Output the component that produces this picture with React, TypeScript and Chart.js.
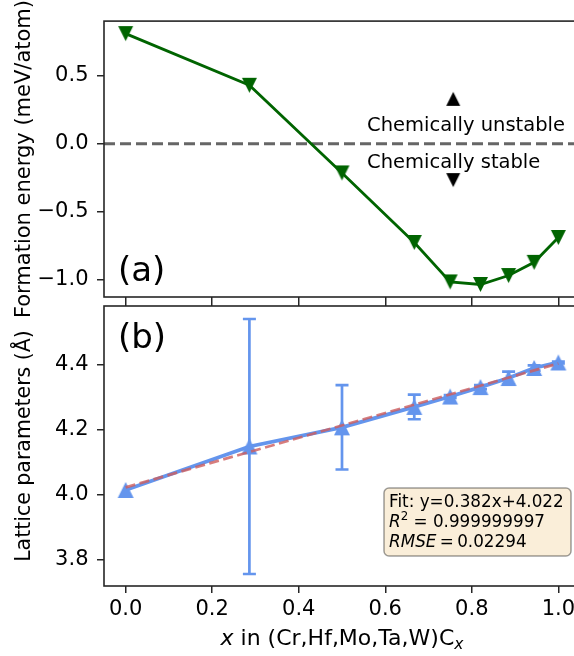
import { useEffect, useRef } from 'react';
import { Chart, registerables } from 'chart.js';
Chart.register(...registerables);

const FONT = "'DejaVu Sans', sans-serif";

// ---- Panel (a): formation energy ----
const carbonX = [0, 0.286, 0.5, 0.667, 0.75, 0.82, 0.885, 0.944, 1.0];
const formationEnergy = [0.81, 0.43, -0.215, -0.727, -1.017, -1.036, -0.97, -0.873, -0.69];
const zeroLineX = [-0.05, 1.05];
const zeroLineY = [0, 0];
const arrowX = [0.757, 0.757];
const arrowY = [0.33, -0.268];
const arrowDir = ['up', 'down'];

// ---- Panel (b): lattice parameters ----
const latticeParam = [4.014, 4.148, 4.207, 4.27, 4.302, 4.331, 4.359, 4.39, 4.407];
const latticeErr = [0, 0.393, 0.13, 0.038, 0.004, 0.006, 0.02, 0.008, 0.003];
const fitX = [0, 1];
const fitY = [4.022, 4.404];

// ---- Axes ----
const xTicks = [0, 0.2, 0.4, 0.6, 0.8, 1.0];
const yTicksA = [-1.0, -0.5, 0.0, 0.5];
const yTicksB = [3.8, 4.0, 4.2, 4.4];
const xRange = [-0.05, 1.05];
const yRangeA = [-1.128, 0.902];
const yRangeB = [3.718, 4.581];

const fmt = (v: number) => (v < 0 ? '\u2212' + Math.abs(v).toFixed(1) : v.toFixed(1));

const GREEN = '#006400';
const BLUE = '#6495ED';
const SPINE = '#262626';

function triMarker(color: string, size: number, up: boolean) {
  const c = document.createElement('canvas');
  const pad = 1;
  c.width = size + 2 * pad;
  c.height = size + 2 * pad;
  const g = c.getContext('2d')!;
  g.fillStyle = color;
  g.beginPath();
  if (up) {
    g.moveTo(pad + size / 2, pad);
    g.lineTo(pad + size, pad + size);
    g.lineTo(pad, pad + size);
  } else {
    g.moveTo(pad, pad);
    g.lineTo(pad + size, pad);
    g.lineTo(pad + size / 2, pad + size);
  }
  g.closePath();
  g.fill();
  return c;
}

const framePlugin = {
  id: 'frame',
  afterDatasetsDraw(chart: any) {
    const { ctx, chartArea: ca } = chart;
    ctx.save();
    ctx.strokeStyle = SPINE;
    ctx.lineWidth = 1.6;
    ctx.strokeRect(ca.left, ca.top, ca.right - ca.left, ca.bottom - ca.top);
    ctx.restore();
  },
};

function drawYTitle(chart: any, text: string, size: number) {
  const { ctx, chartArea: ca } = chart;
  ctx.save();
  ctx.translate(30, (ca.top + ca.bottom) / 2);
  ctx.rotate(-Math.PI / 2);
  ctx.font = `${size}px ${FONT}`;
  ctx.fillStyle = '#000';
  ctx.textAlign = 'center';
  ctx.textBaseline = 'alphabetic';
  ctx.fillText(text, 0, 0);
  ctx.restore();
}

const annotA = {
  id: 'annotA',
  afterDraw(chart: any) {
    const { ctx, chartArea: ca, scales } = chart;
    drawYTitle(chart, 'Formation energy (meV/atom)', 21);
    ctx.save();
    ctx.fillStyle = '#000';
    ctx.textBaseline = 'alphabetic';
    ctx.textAlign = 'left';
    ctx.font = `19.5px ${FONT}`;
    const tx = scales.x.getPixelForValue(0.558);
    ctx.fillText('Chemically unstable', tx, scales.y.getPixelForValue(0.095));
    ctx.fillText('Chemically stable', tx, scales.y.getPixelForValue(-0.178));
    ctx.font = `34px ${FONT}`;
    ctx.fillText('(a)', ca.left + 14, ca.bottom - 16);
    ctx.restore();
  },
};

function drawSegments(ctx: any, segs: { t: string; font: string; dy: number }[], x: number, y: number, align: 'left' | 'center') {
  let total = 0;
  for (const s of segs) {
    ctx.font = s.font;
    total += ctx.measureText(s.t).width;
  }
  let cx = align === 'center' ? x - total / 2 : x;
  for (const s of segs) {
    ctx.font = s.font;
    ctx.fillText(s.t, cx, y + s.dy);
    cx += ctx.measureText(s.t).width;
  }
}

const errorBars = {
  id: 'errorBars',
  beforeDatasetsDraw(chart: any) {
    const { ctx, scales } = chart;
    ctx.save();
    ctx.strokeStyle = BLUE;
    ctx.lineWidth = 2.7;
    carbonX.forEach((xv, i) => {
      const e = latticeErr[i];
      if (!e) return;
      const px = scales.x.getPixelForValue(xv);
      const top = scales.y.getPixelForValue(latticeParam[i] + e);
      const bot = scales.y.getPixelForValue(latticeParam[i] - e);
      ctx.beginPath();
      ctx.moveTo(px, top);
      ctx.lineTo(px, bot);
      ctx.moveTo(px - 6.5, top);
      ctx.lineTo(px + 6.5, top);
      ctx.moveTo(px - 6.5, bot);
      ctx.lineTo(px + 6.5, bot);
      ctx.stroke();
    });
    ctx.restore();
  },
};

const annotB = {
  id: 'annotB',
  afterDraw(chart: any) {
    const { ctx, chartArea: ca } = chart;
    drawYTitle(chart, 'Lattice parameters (\u00C5)', 20.5);
    ctx.save();
    ctx.fillStyle = '#000';
    ctx.textBaseline = 'alphabetic';
    ctx.textAlign = 'left';
    ctx.font = `34px ${FONT}`;
    ctx.fillText('(b)', ca.left + 14, ca.top + 42);

    // x-axis title
    drawSegments(
      ctx,
      [
        { t: 'x', font: `italic 22px ${FONT}`, dy: 0 },
        { t: ' in (Cr,Hf,Mo,Ta,W)C', font: `22px ${FONT}`, dy: 0 },
        { t: 'x', font: `italic 15.5px ${FONT}`, dy: 4 },
      ],
      (ca.left + ca.right) / 2,
      645,
      'center'
    );

    // fit box
    const bx = ca.left + 280;
    const by = ca.bottom - 98;
    const bw = 187;
    const bh = 68;
    ctx.beginPath();
    ctx.roundRect(bx, by, bw, bh, 5);
    ctx.fillStyle = 'rgba(245,222,179,0.5)';
    ctx.fill();
    ctx.strokeStyle = 'rgba(0,0,0,0.38)';
    ctx.lineWidth = 1.5;
    ctx.stroke();
    ctx.fillStyle = '#000';
    const tx = bx + 5;
    const F = 16.8;
    drawSegments(ctx, [{ t: 'Fit: y=0.382x+4.022', font: `${F}px ${FONT}`, dy: 0 }], tx, by + 18.7, 'left');
    drawSegments(
      ctx,
      [
        { t: 'R', font: `italic ${F}px ${FONT}`, dy: 0 },
        { t: '2', font: `11.8px ${FONT}`, dy: -7 },
        { t: ' = 0.999999997', font: `${F}px ${FONT}`, dy: 0 },
      ],
      tx,
      by + 39,
      'left'
    );
    drawSegments(
      ctx,
      [
        { t: 'RMSE', font: `italic ${F}px ${FONT}`, dy: 0 },
        { t: '\u2009=\u20090.02294', font: `${F}px ${FONT}`, dy: 0 },
      ],
      tx,
      by + 58.7,
      'left'
    );
    ctx.restore();
  },
};

const tickFont = { family: FONT, size: 21 };

function xScale(showLabels: boolean, height: number, tickLength: number) {
  return {
    type: 'linear' as const,
    min: xRange[0],
    max: xRange[1],
    afterBuildTicks: (s: any) => {
      s.ticks = xTicks.map((v) => ({ value: v }));
    },
    afterFit: (s: any) => {
      s.height = height;
    },
    ticks: { display: showLabels, font: tickFont, color: '#000', padding: 4, callback: (v: any) => fmt(Number(v)), maxRotation: 0, autoSkip: false },
    grid: { drawOnChartArea: false, drawTicks: true, tickLength, color: SPINE, lineWidth: 1.5 },
    border: { display: false },
  };
}

function yScale(range: number[], ticks: number[]) {
  return {
    type: 'linear' as const,
    min: range[0],
    max: range[1],
    afterBuildTicks: (s: any) => {
      s.ticks = ticks.map((v) => ({ value: v }));
    },
    afterFit: (s: any) => {
      s.width = 104;
    },
    ticks: { font: tickFont, color: '#000', padding: 8.5, callback: (v: any) => fmt(Number(v)), autoSkip: false },
    grid: { drawOnChartArea: false, drawTicks: true, tickLength: 7, color: SPINE, lineWidth: 1.5 },
    border: { display: false },
  };
}

export default function App() {
  const refA = useRef<HTMLCanvasElement>(null);
  const refB = useRef<HTMLCanvasElement>(null);

  useEffect(() => {
    const greenDown = triMarker(GREEN, 15, false);
    const blueUp = triMarker(BLUE, 16, true);
    const blackUp = triMarker('#000', 14, true);
    const blackDown = triMarker('#000', 14, false);

    const chartA = new Chart(refA.current!, {
      type: 'line',
      data: {
        datasets: [
          {
            label: 'zero',
            data: zeroLineX.map((x, i) => ({ x, y: zeroLineY[i] })),
            borderColor: '#666666',
            borderWidth: 3,
            borderDash: [11, 5],
            pointRadius: 0,
            order: 3,
          },
          {
            label: 'Formation energy',
            data: carbonX.map((x, i) => ({ x, y: formationEnergy[i] })),
            borderColor: GREEN,
            backgroundColor: GREEN,
            borderWidth: 2.8,
            pointStyle: greenDown as any,
            pointRadius: 8,
            order: 1,
          },
          {
            label: 'stability arrows',
            data: arrowX.map((x, i) => ({ x, y: arrowY[i] })),
            showLine: false,
            pointStyle: arrowDir.map((d) => (d === 'up' ? blackUp : blackDown)) as any,
            pointRadius: 8,
            backgroundColor: '#000',
            borderColor: '#000',
            order: 2,
          },
        ],
      },
      options: {
        animation: false,
        responsive: false,
        events: [],
        layout: { padding: { left: 0, right: 20, top: 19, bottom: 349 } },
        plugins: { legend: { display: false }, tooltip: { enabled: false } },
        scales: { x: xScale(false, 10, 9), y: yScale(yRangeA, yTicksA) } as any,
      },
      plugins: [framePlugin, annotA],
    });

    const chartB = new Chart(refB.current!, {
      type: 'line',
      data: {
        datasets: [
          {
            label: 'Fit',
            data: fitX.map((x, i) => ({ x, y: fitY[i] })),
            borderColor: 'rgba(205,92,92,0.8)',
            borderWidth: 2.7,
            borderDash: [10, 4.5],
            pointRadius: 0,
            order: 1,
          },
          {
            label: 'Lattice parameters',
            data: carbonX.map((x, i) => ({ x, y: latticeParam[i] })),
            borderColor: BLUE,
            backgroundColor: BLUE,
            borderWidth: 3.8,
            pointStyle: blueUp as any,
            pointRadius: 8,
            order: 2,
          },
        ],
      },
      options: {
        animation: false,
        responsive: false,
        events: [],
        layout: { padding: { left: 0, right: 20, top: 306, bottom: 0 } },
        plugins: { legend: { display: false }, tooltip: { enabled: false } },
        scales: { x: xScale(true, 70, 7), y: yScale(yRangeB, yTicksB) } as any,
      },
      plugins: [framePlugin, errorBars, annotB],
    });

    return () => {
      chartA.destroy();
      chartB.destroy();
    };
  }, []);

  const cs: any = { position: 'absolute', left: 0, top: 0, width: 600, height: 656 };
  return (
    <div style={{ position: 'fixed', left: 0, top: 0, width: 574, height: 656, overflow: 'hidden', background: '#fff' }}>
      <canvas ref={refA} width={600} height={656} style={cs} />
      <canvas ref={refB} width={600} height={656} style={cs} />
    </div>
  );
}
